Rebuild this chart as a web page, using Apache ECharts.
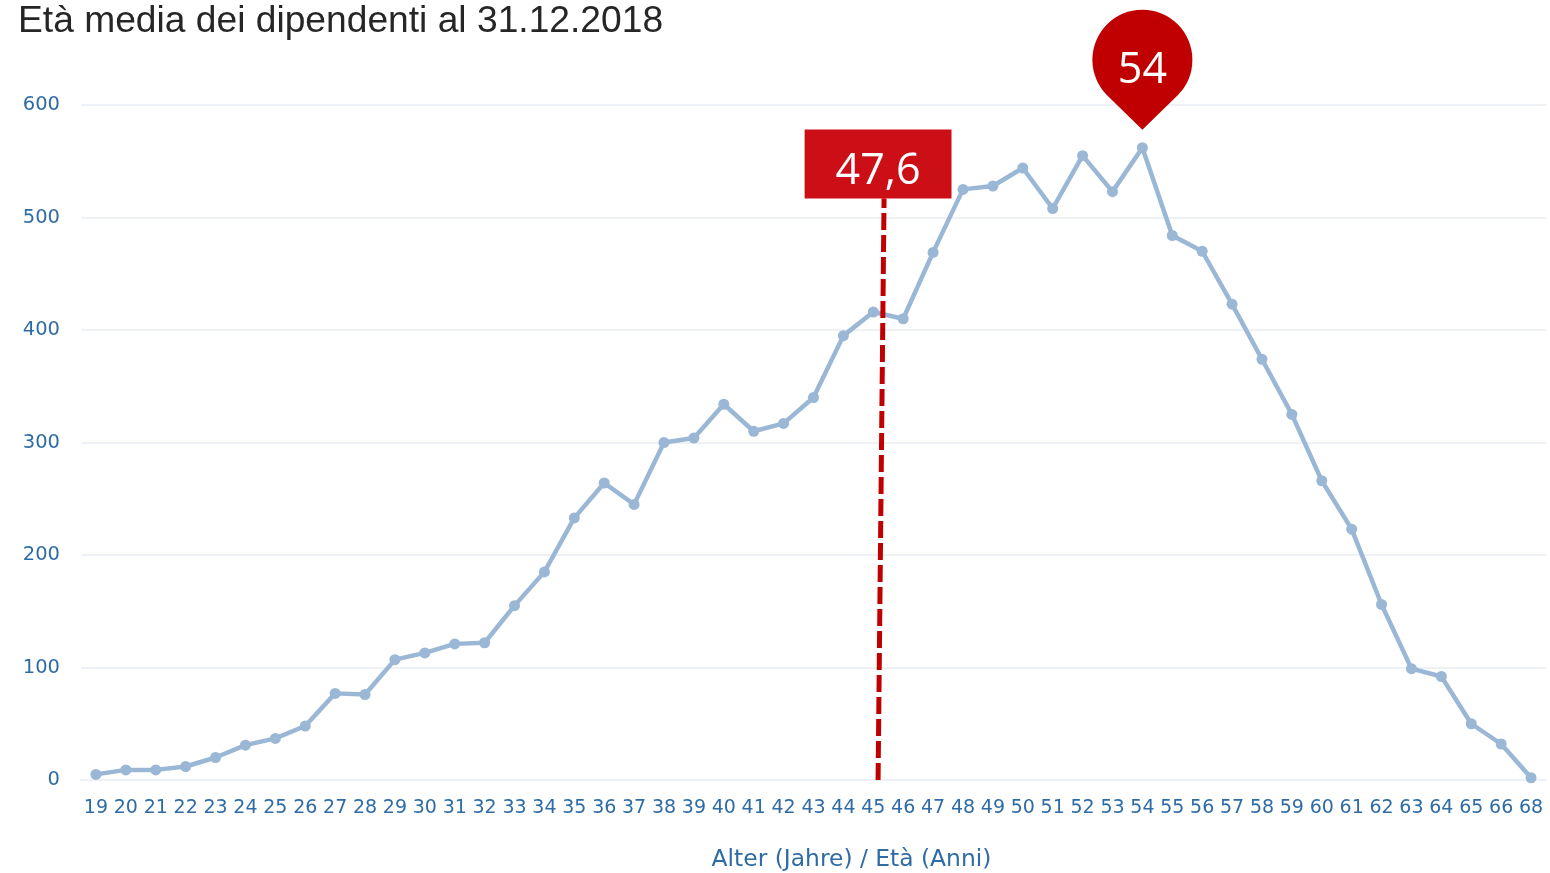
<!DOCTYPE html>
<html lang="it">
<head>
  <meta charset="UTF-8">
  <title>Età media dei dipendenti</title>
  <style>
    html, body { margin: 0; padding: 0; background: #fff; }
  </style>
</head>
<body>
  <div id="main" style="width: 1550px; height: 873px"></div>
  <script src="https://cdn.jsdelivr.net/npm/echarts@6/dist/echarts.min.js"></script>
  <script>
    const ages = ['19','20','21','22','23','24','25','26','27','28','29','30','31','32','33','34','35',
      '36','37','38','39','40','41','42','43','44','45','46','47','48','49','50','51','52','53','54',
      '55','56','57','58','59','60','61','62','63','64','65','66','68']
    const employees = [5,9,9,12,20,31,37,48,77,76,107,113,121,122,155,185,233,
      264,245,300,304,334,310,317,340,395,416,410,469,525,528,544,508,555,523,562,
      484,470,423,374,325,266,223,156,99,92,50,32,2]
    const yTicks = [0, 600, 100]
    // avg line runs on a hidden value axis counted in category bands (slightly slanted in the original)
    const avgLine = [[26.66, 0], [26.86, 517]]
    const avgLabel = '47,6'
    const peakAge = '54'
    const peakValue = 562
    const peakLabel = '54'

    const tickColor = '#2f6ca6'
    const gridColor = '#eef2f7'
    const labelFont = '"Open Sans", "Noto Sans", sans-serif'
    const tickFont = '"DejaVu Sans", sans-serif'

    let myChart = echarts.init(document.getElementById('main'))

    let option = {
      animation: false,
      title: {
        text: 'Età media dei dipendenti al 31.12.2018',
        left: 13,
        top: -2,
        textStyle: { fontFamily: '"Liberation Sans", Arial, sans-serif', fontSize: 37.2, fontWeight: 'normal', color: '#262626' }
      },
      // outerBoundsMode off, otherwise v6 squeezes the grid to keep the axis name inside
      grid: { left: 81, right: 4, top: 105, bottom: 93, outerBoundsMode: 'none' },
      xAxis: [
        {
          type: 'category',
          data: ages,
          boundaryGap: true,
          name: 'Alter (Jahre) / Età (Anni)',
          nameLocation: 'middle',
          nameGap: 68,
          nameTextStyle: { fontFamily: tickFont, fontSize: 23.4, color: tickColor, padding: [0, 0, 0, 76] },
          axisTick: { show: false },
          axisLine: { lineStyle: { color: gridColor, width: 2 } },
          axisLabel: { interval: 0, margin: 19, fontFamily: tickFont, fontSize: 19, color: tickColor }
        },
        { type: 'value', min: 0, max: ages.length, show: false }
      ],
      yAxis: {
        type: 'value',
        min: yTicks[0],
        max: yTicks[1],
        interval: yTicks[2],
        axisLine: { show: false },
        axisTick: { show: false },
        splitLine: { lineStyle: { color: gridColor, width: 2 } },
        axisLabel: { margin: 21, fontFamily: tickFont, fontSize: 19.5, color: tickColor }
      },
      series: [
        {
          type: 'line',
          data: employees,
          symbol: 'circle',
          symbolSize: 11,
          lineStyle: { color: '#9ab7d5', width: 4.5 },
          itemStyle: { color: '#9ab7d5' },
          markPoint: {
            silent: true,
            symbol: 'path://M50 0A50 50 0 0 1 85.4 85.4L50 120L14.6 85.4A50 50 0 0 1 50 0Z',
            symbolSize: [100, 120],
            symbolOffset: [0, -78],
            itemStyle: { color: '#c00000' },
            label: {
              show: true,
              formatter: peakLabel,
              offset: [0, 1],
              fontFamily: labelFont,
              fontSize: 43,
              color: '#fff'
            },
            data: [{ coord: [peakAge, peakValue] }]
          }
        },
        {
          type: 'line',
          xAxisIndex: 1,
          data: avgLine,
          symbol: 'none',
          lineStyle: { color: '#c00000', width: 5, type: [17, 5] },
          z: 3
        },
        {
          type: 'scatter',
          xAxisIndex: 1,
          data: [avgLine[1]],
          symbolSize: 0,
          itemStyle: { opacity: 1 },
          z: 4,
          label: {
            show: true,
            position: 'top',
            distance: 0,
            offset: [-6, 0],
            formatter: avgLabel,
            padding: [22, 31, 6, 31],
            backgroundColor: '#cc0f17',
            fontFamily: labelFont,
            fontSize: 43,
            lineHeight: 41,
            color: '#fff'
          }
        }
      ]
    }

    myChart.setOption(option)
  </script>
</body>
</html>
